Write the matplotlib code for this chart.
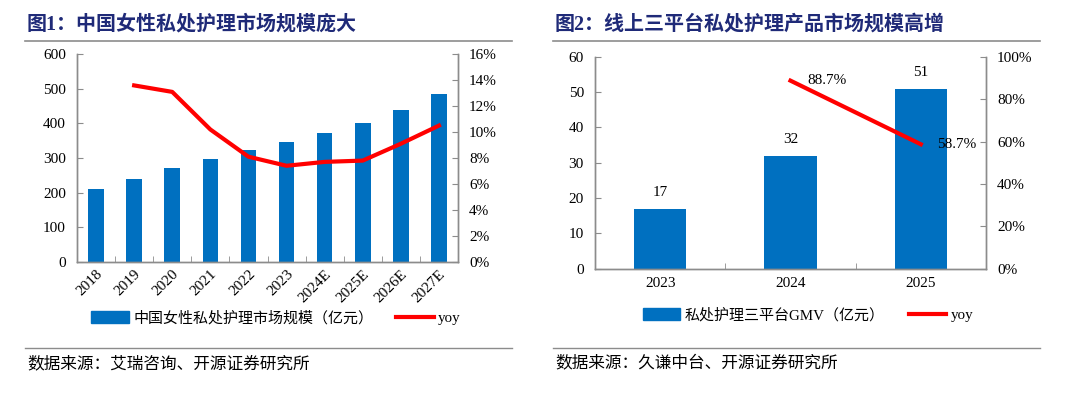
import numpy as np
import matplotlib
matplotlib.use("Agg")
import matplotlib.pyplot as plt
from matplotlib.ticker import FuncFormatter, FixedLocator
from matplotlib.lines import Line2D

plt.rcParams['font.family'] = ['Liberation Serif', 'Noto Sans CJK SC']

# --- data: figure 1 ---
years1 = ['2018', '2019', '2020', '2021', '2022', '2023', '2024E', '2025E', '2026E', '2027E']
market = [209, 238, 270, 298, 322, 346, 373, 402, 440, 485]
yoy1_years = years1[1:]
yoy1 = [13.6, 13.1, 10.2, 8.1, 7.4, 7.7, 7.8, 9.1, 10.5]

# --- data: figure 2 ---
years2 = ['2023', '2024', '2025']
gmv = [17, 32, 51]
yoy2_years = ['2024', '2025']
yoy2 = [88.7, 58.7]

title1 = '图1：中国女性私处护理市场规模庞大'
title2 = '图2：线上三平台私处护理产品市场规模高增'
legend1 = '中国女性私处护理市场规模（亿元）'
legend2 = '私处护理三平台GMV（亿元）'
source1 = '数据来源：艾瑞咨询、开源证券研究所'
source2 = '数据来源：久谦中台、开源证券研究所'

BLUE = '#0070C0'
RED = '#FF0000'
NAVY = '#1F2A78'
GRAY = '#8C8C8C'

W, H = 1080, 398
fig = plt.figure(figsize=(W / 100, H / 100), dpi=100)


def fx(px):
    return px / W


def fy(py):
    return 1 - py / H


def style_axes(ax, ax2, n):
    for a in (ax, ax2):
        a.spines['top'].set_visible(False)
        for s in ('left', 'right', 'bottom'):
            a.spines[s].set_color(GRAY)
            a.spines[s].set_linewidth(1.0)
    ax.set_xlim(-0.5, n - 0.5)
    ax.xaxis.set_major_locator(FixedLocator(range(n)))
    ax.xaxis.set_minor_locator(FixedLocator([i + 0.5 for i in range(n - 1)]))
    ax.tick_params(axis='x', which='major', length=0, pad=6, labelsize=11)
    ax.tick_params(axis='x', which='minor', direction='in', length=4, color=GRAY)
    ax.tick_params(axis='y', direction='in', length=4, color=GRAY, labelsize=11, pad=8)
    ax2.tick_params(axis='y', direction='in', length=4, color=GRAY, labelsize=11, pad=8)


# ---------------- figure 1 ----------------
x1 = np.arange(len(years1))
ax = fig.add_axes([fx(77), fy(261.7), fx(381), 207.4 / H])
ax.bar(x1, market, width=0.41, color=BLUE, zorder=2)
ax.set_ylim(0, 600)
ax.set_yticks(range(0, 601, 100))
ax2 = ax.twinx()
ax2.plot([years1.index(y) for y in yoy1_years], yoy1, color=RED, lw=3, zorder=3)
ax2.set_ylim(0, 16)
ax2.set_yticks(range(0, 17, 2))
ax2.yaxis.set_major_formatter(FuncFormatter(lambda v, p: f'{v:.0f}%'))
style_axes(ax, ax2, len(years1))
ax.set_xticks(x1)
ax.set_xticklabels(years1, rotation=45, ha='right', rotation_mode='anchor')
ax.tick_params(axis='x', which='major', pad=4)

h1 = [plt.Rectangle((0, 0), 1, 1, color=BLUE),
      Line2D([], [], color=RED, lw=3)]
fig.legend(h1, [legend1, 'yoy'], loc='center left',
           bbox_to_anchor=(fx(78), fy(318)), ncol=2, frameon=False,
           fontsize=10.8, handlelength=2.5, handleheight=0.8,
           columnspacing=1.5, handletextpad=0.3)

# ---------------- figure 2 ----------------
x2 = np.arange(len(years2))
bx = fig.add_axes([fx(595), fy(268.7), fx(391), 212 / H])
bars = bx.bar(x2, gmv, width=0.4, color=BLUE, zorder=2)
bx.set_ylim(0, 60)
bx.set_yticks(range(0, 61, 10))
for xi, v in zip(x2, gmv):
    bx.annotate(f'{v}', (xi, v), xytext=(0, 7), textcoords='offset points',
                ha='center', va='bottom', fontsize=11)
bx2 = bx.twinx()
px = [years2.index(y) for y in yoy2_years]
bx2.plot(px, yoy2, color=RED, lw=3, zorder=3)
for xi, v in zip(px, yoy2):
    bx2.annotate(f'{v:.1f}%', (xi, v), xytext=(12, 0), textcoords='offset points',
                 ha='left', va='center', fontsize=11)
bx2.set_ylim(0, 100)
bx2.set_yticks(range(0, 101, 20))
bx2.yaxis.set_major_formatter(FuncFormatter(lambda v, p: f'{v:.0f}%'))
style_axes(bx, bx2, len(years2))
bx.set_xticks(x2)
bx.set_xticklabels(years2)

h2 = [plt.Rectangle((0, 0), 1, 1, color=BLUE),
      Line2D([], [], color=RED, lw=3)]
fig.legend(h2, [legend2, 'yoy'], loc='center left',
           bbox_to_anchor=(fx(629), fy(315)), ncol=2, frameon=False,
           fontsize=10.8, handlelength=2.5, handleheight=0.8,
           columnspacing=1.6, handletextpad=0.3)

# ---------------- titles, rules, sources ----------------
fig.text(fx(27), fy(24), title1, fontsize=14.4, fontweight='bold', color=NAVY,
         va='center', ha='left')
fig.text(fx(555), fy(24), title2, fontsize=14.4, fontweight='bold', color=NAVY,
         va='center', ha='left')
for x0, x1_ in ((25, 512), (553, 1040)):
    fig.add_artist(Line2D([fx(x0), fx(x1_)], [fy(40.5), fy(40.5)], color=GRAY, lw=1.2))
    fig.add_artist(Line2D([fx(x0), fx(x1_)], [fy(347.5), fy(347.5)], color=GRAY, lw=1.0))
fig.text(fx(27), fy(364), source1, fontsize=12, va='center', ha='left')
fig.text(fx(555), fy(364), source2, fontsize=12, va='center', ha='left')

fig.savefig('out.png', dpi=100)
